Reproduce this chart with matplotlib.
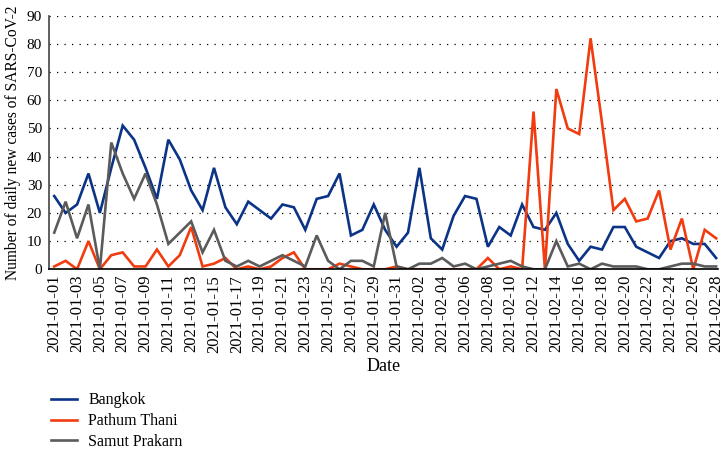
import numpy as np
import pandas as pd
import matplotlib
matplotlib.use("Agg")
import matplotlib.pyplot as plt
import matplotlib.dates as mdates

# daily new cases, 2021-01-01 .. 2021-02-28
dates = pd.date_range("2021-01-01", "2021-02-28", freq="D")

bangkok = [26, 20, 23, 34, 20, 36, 51, 46, 36, 25,
           46, 39, 28, 21, 36, 22, 16, 24, 21, 18,
           23, 22, 14, 25, 26, 34, 12, 14, 23, 14,
           8, 13, 36, 11, 7, 19, 26, 25, 8, 15,
           12, 23, 15, 14, 20, 9, 3, 8, 7, 15,
           15, 8, 6, 4, 10, 11, 9, 9, 4]

pathum_thani = [1, 3, 0, 10, 0, 5, 6, 1, 1, 7,
                1, 5, 15, 1, 2, 4, 0, 1, 0, 1,
                4, 6, 0, 0, 0, 2, 1, 0, 0, 0,
                1, 0, 0, 0, 0, 0, 0, 0, 4, 0,
                1, 0, 56, 0, 64, 50, 48, 82, 52, 21,
                25, 17, 18, 28, 7, 18, 0, 14, 11]

samut_prakarn = [13, 24, 11, 23, 0, 45, 34, 25, 34, 23,
                 9, 13, 17, 6, 14, 3, 1, 3, 1, 3,
                 5, 3, 1, 12, 3, 0, 3, 3, 1, 20,
                 1, 0, 2, 2, 4, 1, 2, 0, 1, 2,
                 3, 1, 0, 0, 10, 1, 2, 0, 2, 1,
                 1, 1, 0, 0, 1, 2, 2, 1, 1]

series = [("Bangkok", bangkok, "#0b3386"),
          ("Pathum Thani", pathum_thani, "#f03c0f"),
          ("Samut Prakarn", samut_prakarn, "#5b5b5b")]

plt.rcParams["font.family"] = ["Liberation Serif", "DejaVu Serif"]

fig = plt.figure(figsize=(7.26, 4.5), dpi=100)
ax = fig.add_axes([0.0675, 0.4016, 0.9215, 0.5634])

for name, vals, col in series:
    ax.plot(dates, vals, color=col, lw=1.9, label=name, solid_joinstyle="miter")

ax.set_ylim(0, 90)
ax.set_yticks(np.arange(0, 91, 10))
ax.set_xlim(dates[0] - pd.Timedelta(hours=11), dates[-1] + pd.Timedelta(hours=4))
ax.set_xticks(dates[::2])
ax.xaxis.set_major_formatter(mdates.DateFormatter("%Y-%m-%d"))
ax.tick_params(axis="x", rotation=90, length=0, pad=4, labelsize=12)
ax.tick_params(axis="y", length=0, pad=5, labelsize=11)

ax.grid(axis="y", color="black", lw=0.9, linestyle=(0, (1, 5)))
ax.set_axisbelow(True)
for s in ["top", "right"]:
    ax.spines[s].set_visible(False)
ax.spines["left"].set_color("#444444")
ax.spines["left"].set_linewidth(1.2)
ax.spines["bottom"].set_color("black")
ax.spines["bottom"].set_linewidth(1.2)

ax.set_xlabel("Date", fontsize=13, labelpad=4)
ax.set_ylabel("Number of daily new cases of SARS-CoV-2", fontsize=11.2, labelpad=4)

fig.legend(loc="upper left", bbox_to_anchor=(0.061, 0.142), frameon=False,
           fontsize=11.5, handlelength=1.65, handletextpad=0.7, labelspacing=0.3,
           borderaxespad=0)

fig.savefig("out.png", dpi=100)
